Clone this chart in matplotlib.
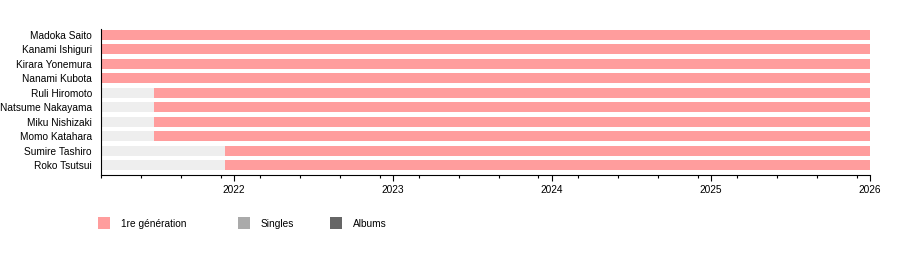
import datetime as dt
import matplotlib
matplotlib.use("Agg")
import matplotlib.pyplot as plt
import matplotlib.dates as mdates
from matplotlib.patches import Rectangle

# timeline data
members = ["Madoka Saito", "Kanami Ishiguri", "Kirara Yonemura", "Nanami Kubota",
           "Ruli Hiromoto", "Natsume Nakayama", "Miku Nishizaki", "Momo Katahara",
           "Sumire Tashiro", "Roko Tsutsui"]
joined = ["2021-03-01", "2021-03-01", "2021-03-01", "2021-03-01",
          "2021-07-01", "2021-07-01", "2021-07-01", "2021-07-01",
          "2021-12-10", "2021-12-10"]
timeline_start = "2021-03-01"
timeline_end = "2026-01-01"

legend_labels = ["1re génération", "Singles", "Albums"]
legend_colors = ["#ff9d9d", "#aaaaaa", "#666666"]
gen_color = "#ff9d9d"
pre_color = "#eeeeee"

plt.rcParams["font.family"] = ["Liberation Sans", "DejaVu Sans"]
fs = 7.3

d = lambda s: mdates.date2num(dt.datetime.strptime(s, "%Y-%m-%d"))
t0, t1 = d(timeline_start), d(timeline_end)

fig = plt.figure(figsize=(9, 2.54), dpi=100)
ax = fig.add_axes([101 / 900, 79 / 254, 769 / 900, 146 / 254])

bh = 0.69
for i, (name, j) in enumerate(zip(members, joined)):
    tj = d(j)
    if tj > t0:
        ax.barh(i, tj - t0, left=t0, height=bh, color=pre_color, linewidth=0)
    ax.barh(i, t1 - tj, left=tj, height=bh, color=gen_color, linewidth=0)

ax.set_xlim(t0, t1)
ax.set_ylim(9.69, -0.415)
ax.set_yticks(range(len(members)))
ax.set_yticklabels(members, fontsize=fs)
ax.tick_params(axis="y", length=0, pad=6.5)

# yearly major ticks, quarterly minor ticks from the start date
years = [d(f"{y}-01-01") for y in range(2022, 2027)]
ax.set_xticks(years)
ax.set_xticklabels([str(y) for y in range(2022, 2027)], fontsize=fs)
minor = []
y, m = 2021, 3
while d(f"{y}-{m:02d}-01") <= t1:
    minor.append(d(f"{y}-{m:02d}-01"))
    m += 3
    if m > 12:
        m -= 12
        y += 1
ax.set_xticks(minor, minor=True)
ax.tick_params(axis="x", which="major", length=4, width=0.8, pad=3.5)
ax.tick_params(axis="x", which="minor", length=2.5, width=0.8)

for s in ["top", "right"]:
    ax.spines[s].set_visible(False)
ax.spines["left"].set_linewidth(0.8)
ax.spines["bottom"].set_linewidth(0.8)

# legend
lx = [98, 238, 330]
for x, lab, c in zip(lx, legend_labels, legend_colors):
    fig.patches.append(Rectangle((x / 900, (254 - 229) / 254), 12 / 900, 12 / 254,
                                 transform=fig.transFigure, color=c, linewidth=0))
    fig.text((x + 23) / 900, (254 - 224) / 254, lab, fontsize=fs, va="center")

fig.savefig("out.png", dpi=100)
